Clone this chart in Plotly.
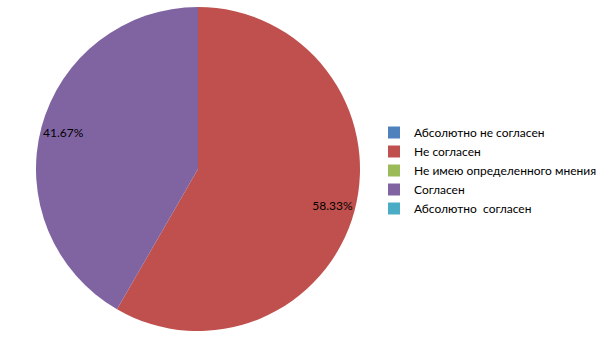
import plotly.graph_objects as go

labels = ["Абсолютно не согласен", "Не согласен", "Не имею определенного мнения", "Согласен", "Абсолютно  согласен"]
values = [0, 7, 0, 5, 0]
colors = ["#4F81BD", "#C0504D", "#9BBB59", "#8064A2", "#4BACC6"]

dom = dict(x=[36/605, 360/605], y=[1-331/340, 1-7/340])

fig = go.Figure()
fig.add_trace(go.Pie(
    labels=labels, values=values, sort=False, direction="clockwise", rotation=0,
    marker=dict(colors=colors, line=dict(width=0)),
    textinfo="none",
    domain=dom, hoverinfo="label+percent",
))
# transparent ring overlay used only to place the percentage labels near the rim
fig.add_trace(go.Pie(
    labels=labels, values=values, sort=False, direction="clockwise", rotation=0,
    hole=0.72, showlegend=False,
    marker=dict(colors=["rgba(0,0,0,0)"] * len(values), line=dict(width=0)),
    texttemplate="%{percent:.2%}", textposition="inside",
    insidetextorientation="horizontal",
    textfont=dict(family="Lato", size=12, color="#000000"),
    domain=dom, hoverinfo="skip",
))
fig.update_layout(
    width=605, height=340, margin=dict(l=0, r=0, t=0, b=0),
    paper_bgcolor="white", plot_bgcolor="white",
    font=dict(family="Lato", size=12, color="#000000"),
    legend=dict(x=374/605, y=1-118/340, xanchor="left", yanchor="top",
                font=dict(family="Lato", size=12), tracegroupgap=0),
)
fig.write_html("out.html")
